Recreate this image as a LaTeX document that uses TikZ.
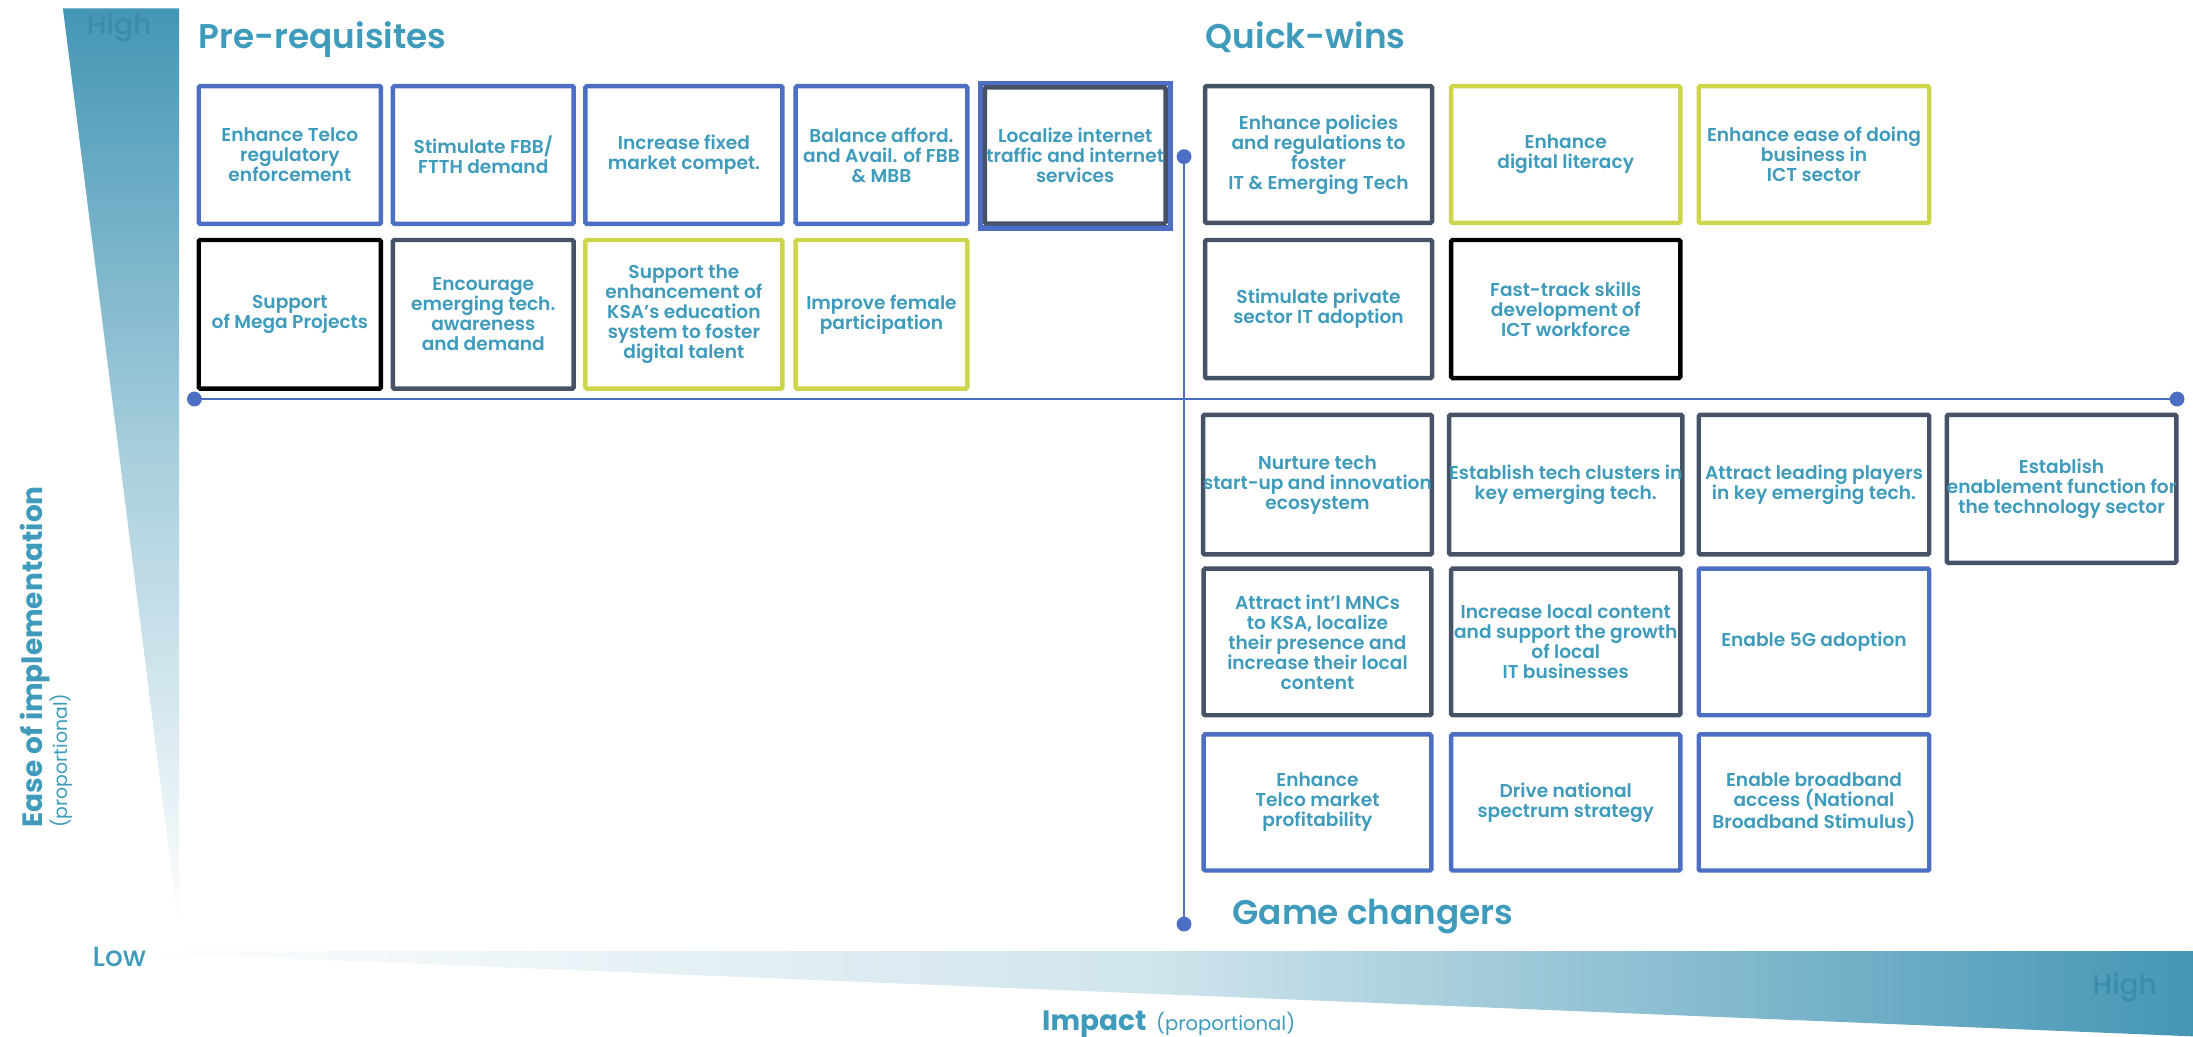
\documentclass[tikz,border=0pt]{standalone}
\usepackage{fontspec}
\setmainfont{Poppins}[UprightFont=* Medium, BoldFont=* Bold]
\newfontfamily\semib{Poppins SemiBold}
\newfontfamily\regf{Poppins}
\definecolor{tealtxt}{HTML}{3E9BBB}
\definecolor{gradteal}{HTML}{4496B5}
\definecolor{hightxt}{HTML}{3A8CAA}
\definecolor{bblue}{HTML}{4D6FC3}
\definecolor{slate}{HTML}{465366}
\definecolor{ygreen}{HTML}{CDD64B}
\tikzset{
  box/.style={draw, line width=3.2pt, fill=white, rounded corners=1pt, align=center,
    text=tealtxt, inner sep=0pt, font=\semib\fontsize{13.3}{14.3}\selectfont},
  bluebox/.style={box, draw=bblue},
  slatebox/.style={box, draw=slate},
  greenbox/.style={box, draw=ygreen},
  blackbox/.style={box, draw=black},
  titlelab/.style={text=tealtxt, inner sep=0pt, font=\semib\fontsize{24.5}{24.5}\selectfont},
  axisline/.style={draw=bblue, line width=2pt},
  dot/.style={fill=bblue}
}
\newcommand\qbox[7]{\node[#6, minimum width={(#4)-(#2)-3.2}, minimum height={(#5)-(#3)-3.2}] (#1) at ({((#2)+(#4))/2},{((#3)+(#5))/2}) {#7};}
\begin{document}
\begin{tikzpicture}[x=1pt,y=-1pt]
\useasboundingbox (0,0) rectangle (1568,741);
\fill[white] (0,0) rectangle (1568,741);
% gradient wedges
\shade[top color=gradteal, bottom color=white, middle color=gradteal!45] (45,6) -- (128,6) -- (128,665) -- cycle;
\shade[left color=white, right color=gradteal, middle color=gradteal!25] (76,680) -- (1568,680) -- (1568,741) -- cycle;
% axis end labels
\node[anchor=base west, inner sep=0pt, text=hightxt, font=\fontsize{20}{20}\selectfont] (hightop) at (62,25) {High};
\node[anchor=base west, inner sep=0pt, text=hightxt, font=\fontsize{20}{20}\selectfont] (highbot) at (1496,711) {High};
\node[anchor=base west, inner sep=0pt, text=tealtxt, font=\fontsize{20}{20}\selectfont] (low) at (66,690.7) {Low};
% axis titles
\node[anchor=base west, inner sep=0pt, text=tealtxt, rotate=90, font=\bfseries\fontsize{20}{20}\selectfont] (ease) at (30.5,592) {Ease of implementation};
\node[anchor=base west, inner sep=0pt, text=tealtxt, rotate=90, font=\regf\fontsize{13.5}{14}\selectfont] (easeprop) at (48.5,592) {(proportional)};
\node[anchor=base west, inner sep=0pt, text=tealtxt] (impact) at (745,736.5) {{\bfseries\fontsize{20}{20}\selectfont Impact}\hspace{7pt}{\regf\fontsize{14}{14}\selectfont (proportional)}};
% quadrant titles
\node[titlelab, anchor=base west] (tpre) at (142,34.5) {Pre-requisites};
\node[titlelab, anchor=base west] (tquick) at (862,34.5) {Quick-wins};
\node[titlelab, anchor=base west] (tgame) at (881,660.7) {Game changers};
% axes
\coordinate (hL) at (139,285.3);
\coordinate (hR) at (1556.6,285.3);
\coordinate (vT) at (846.6,112);
\coordinate (vB) at (846.6,660.7);
\draw[axisline] (hL) -- (hR);
\draw[axisline] (vT) -- (vB);
\fill[dot] (hL) circle (5.3);
\fill[dot] (hR) circle (5.3);
\fill[dot] (vT) circle (5.3);
\fill[dot] (vB) circle (5.3);
% Pre-requisites
\qbox{b1}{140.5}{60}{274}{161.6}{bluebox}{Enhance Telco\\regulatory\\enforcement}
\qbox{b2}{279.3}{60}{411.8}{161.6}{bluebox}{Stimulate FBB/\\FTTH demand}
\qbox{b3}{417}{60}{561}{161.6}{bluebox}{Increase fixed\\market compet.}
\qbox{b4}{567.3}{60}{693.2}{161.6}{bluebox}{Balance afford.\\and Avail. of FBB\\\& MBB}
\node[draw=bblue, line width=3.8pt, fill=white, inner sep=0pt, minimum width=135.9, minimum height=103.5] (b5o) at (768.85,111.35) {};
\qbox{b5}{702.5}{60.8}{835}{161.4}{slatebox}{Localize internet\\traffic and internet\\services}
\qbox{b6}{140.5}{170}{274}{279.5}{blackbox}{Support\\of Mega Projects}
\qbox{b7}{279.3}{170}{411.8}{279.5}{slatebox}{Encourage\\emerging tech.\\awareness\\and demand}
\qbox{b8}{417}{170}{561}{279.5}{greenbox}{Support the\\enhancement of\\KSA’s education\\system to foster\\digital talent}
\qbox{b9}{567.3}{170}{693.2}{279.5}{greenbox}{Improve female\\participation}
% Quick-wins
\qbox{b10}{860}{60}{1025.5}{161}{slatebox}{Enhance policies\\and regulations to\\foster\\IT \& Emerging Tech}
\qbox{b11}{1036}{60}{1203}{161}{greenbox}{Enhance\\digital literacy}
\qbox{b12}{1213}{60}{1381}{161}{greenbox}{Enhance ease of doing\\business in\\ICT sector}
\qbox{b13}{860}{170}{1025.5}{272}{slatebox}{Stimulate private\\sector IT adoption}
\qbox{b14}{1036}{170}{1203}{272}{blackbox}{Fast-track skills\\development of\\ICT workforce}
% Game changers
\qbox{b15}{859}{295}{1025}{398}{slatebox}{Nurture tech\\start-up and innovation\\ecosystem}
\qbox{b16}{1036}{295}{1203}{398}{slatebox}{Establish tech clusters in\\key emerging tech.}
\qbox{b17}{1213}{295}{1381}{398}{slatebox}{Attract leading players\\in key emerging tech.}
\qbox{b18}{1391}{295}{1557}{404}{slatebox}{Establish\\enablement function for\\the technology sector}
\qbox{b19}{859}{405}{1025}{513}{slatebox}{Attract int’l MNCs\\to KSA, localize\\their presence and\\increase their local\\content}
\qbox{b20}{1036}{405}{1203}{513}{slatebox}{Increase local content\\and support the growth\\of local\\IT businesses}
\qbox{b21}{1213}{405}{1381}{513}{bluebox}{Enable 5G adoption}
\qbox{b22}{859}{523.5}{1025}{624}{bluebox}{Enhance\\Telco market\\profitability}
\qbox{b23}{1036}{523.5}{1203}{624}{bluebox}{Drive national\\spectrum strategy}
\qbox{b24}{1213}{523.5}{1381}{624}{bluebox}{Enable broadband\\access (National\\Broadband Stimulus)}
\end{tikzpicture}
\end{document}
